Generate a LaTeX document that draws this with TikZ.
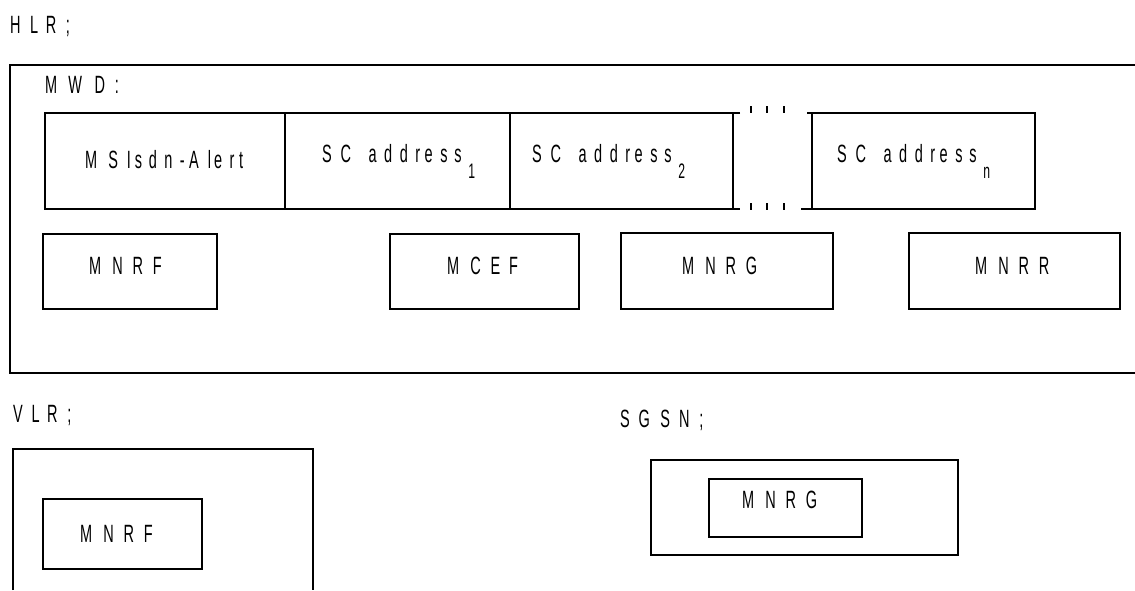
\documentclass[tikz,border=0pt]{standalone}
\usepackage{fontspec}
\newfontfamily\advfont{Liberation Sans}
\newfontfamily\inkfont[FakeStretch=0.58]{Liberation Sans}
\newlength\wtlen
\newcommand\wtadvsize{28}
\newcommand\wtinksize{25}
\newcommand\wtchar[1]{\settowidth\wtlen{\advfont\fontsize{\wtadvsize}{\wtadvsize}\selectfont #1}\makebox[\wtlen][l]{\inkfont\fontsize{\wtinksize}{\wtinksize}\selectfont #1}}
\let\wtend\relax
\def\wt#1{\wtloop#1\wtend}
\def\wtloop#1{\ifx\wtend#1\else\wtchar{#1}\expandafter\wtloop\fi}
\newcommand\wtsub[1]{\raisebox{-16pt}{\inkfont\fontsize{21}{21}\selectfont #1}}
\begin{document}
\begin{tikzpicture}[x=1pt,y=-1pt,
  ln/.style={line width=1.6pt, line join=miter},
  lbl/.style={anchor=base west, inner sep=0pt, outer sep=0pt}]
\useasboundingbox (0,0) rectangle (1135,590);
% HLR
\node[lbl] (hlr) at (10,33) {\wt{HLR;}};
\draw[ln] (1135,65) -- (10,65) -- (10,373) -- (1135,373);
\node[lbl] (mwd) at (45,93) {\wt{MWD:}};
% MWD row
\draw[ln] (740,113) -- (45,113) -- (45,209) -- (740,209);
\draw[ln] (285,113) -- (285,209);
\draw[ln] (510,113) -- (510,209);
\draw[ln] (733,113) -- (733,209);
\draw[ln] (807,113) -- (1035,113) -- (1035,209) -- (801,209);
\draw[ln] (812,113) -- (812,209);
\foreach \x in {751,767,784}{
  \fill (\x-1.3,106) rectangle (\x+1.3,113);
  \fill (\x-1.3,203) rectangle (\x+1.3,210);
}
\node[lbl] (msisdn) at (85,168) {\wt{MSIsdn-Alert}};
\node[lbl] (sc1) at (322,162) {\wt{SC~address}\wtsub{1}};
\node[lbl] (sc2) at (532,162) {\wt{SC~address}\wtsub{2}};
\node[lbl] (scn) at (837,162) {\wt{SC~address}\wtsub{n}};
% lower row
\draw[ln] (43,234) rectangle (217,309);
\node[lbl] (mnrf) at (89,274) {\wt{MNRF}};
\draw[ln] (390,234) rectangle (579,309);
\node[lbl] (mcef) at (447,274) {\wt{MCEF}};
\draw[ln] (621,233) rectangle (833,309);
\node[lbl] (mnrg) at (682,274) {\wt{MNRG}};
\draw[ln] (909,233) rectangle (1120,309);
\node[lbl] (mnrr) at (975,274) {\wt{MNRR}};
% VLR
\node[lbl] (vlr) at (13,422) {\wt{VLR;}};
\draw[ln] (13,590) -- (13,449) -- (313,449) -- (313,590);
\draw[ln] (43,499) rectangle (202,569);
\node[lbl] (vmnrf) at (80,542) {\wt{MNRF}};
% SGSN
\node[lbl] (sgsn) at (620,427) {\wt{SGSN;}};
\draw[ln] (651,460) rectangle (958,555);
\draw[ln] (709,479) rectangle (862,537);
\node[lbl] (smnrg) at (742,508) {\wt{MNRG}};
\end{tikzpicture}
\end{document}
